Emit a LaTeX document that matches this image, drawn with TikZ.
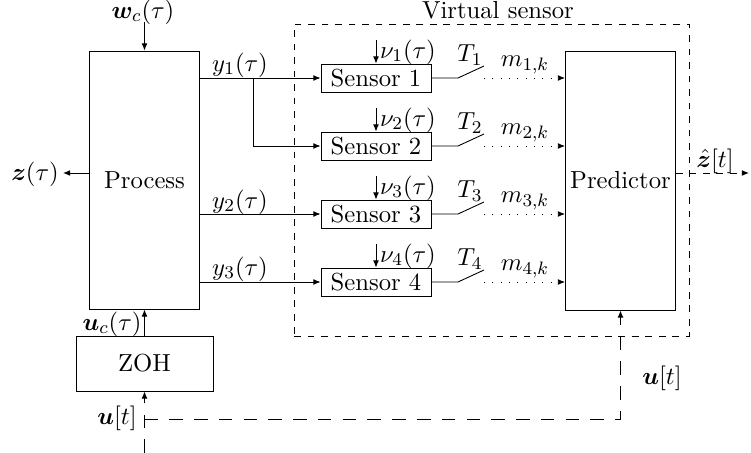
\documentclass[tikz,border=0pt]{standalone}
\usepackage{bm}
\usetikzlibrary{arrows.meta}
\begin{document}
\begin{tikzpicture}[x=0.444pt,y=-0.444pt, >={Latex[length=3.2pt,width=2.6pt]},
  every node/.append style={font=\fontsize{10.95pt}{13pt}\selectfont},
  blk/.style={draw, inner sep=0pt},
  vsbox/.style={draw, dashed, inner sep=0pt},
  ctrl/.style={dash pattern=on 6pt off 5pt},
  meas/.style={dash pattern=on 0.4pt off 3.3pt},
  lbl/.style={inner sep=0pt}]
\useasboundingbox (0,0) rectangle (751,453);

% main blocks
\node[blk, minimum width=110*0.444pt, minimum height=258*0.444pt] (proc) at (144.5,180) {Process};
\node[blk, minimum width=110*0.444pt, minimum height=259*0.444pt] (pred) at (620.5,180.5) {Predictor};
\node[blk, minimum width=137*0.444pt, minimum height=55*0.444pt] (zoh) at (144.5,363.5) {ZOH};
\node[vsbox, minimum width=395*0.444pt, minimum height=312*0.444pt] (vs) at (491.5,180) {};
\node[lbl] (vslbl) at (498,10) {Virtual sensor};

% sensors
\foreach \i/\y in {1/78,2/146,3/214,4/282}{
  \node[blk, minimum width=110*0.444pt, minimum height=28*0.444pt] (s\i) at (376,\y) {Sensor \i};
  \coordinate (n\i) at (376,\y-38);
  \draw[->] (n\i) -- (s\i.north);
  \node[lbl] (nl\i) at (408,\y-26) {$\nu_{\i}(\tau)$};
  \coordinate (swa\i) at (458,\y);
  \coordinate (swb\i) at (484,\y-12);
  \coordinate (dm\i) at (484,\y);
  \draw (s\i.east) -- (swa\i) -- (swb\i);
  \draw[meas,->] (dm\i) -- (dm\i -| pred.west);
  \node[lbl] (tl\i) at (470,\y-23) {$T_{\i}$};
  \node[lbl] (ml\i) at (525,\y-13) {$m_{\i,k}$};
}

% process outputs
\coordinate (br) at (253,78);
\draw[->] (s1 -| proc.east) -- (s1.west);
\draw[->] (br) |- (s2.west);
\draw[->] (s3 -| proc.east) -- (s3.west);
\draw[->] (s4 -| proc.east) -- (s4.west);
\node[lbl] (y1l) at (240,65) {$y_1(\tau)$};
\node[lbl] (y2l) at (240,202) {$y_2(\tau)$};
\node[lbl] (y3l) at (240,269) {$y_3(\tau)$};

% disturbance input
\coordinate (wc) at (144.5,22);
\draw[->] (wc) -- (proc.north);
\node[lbl] (wcl) at (143,12) {$\bm{w}_c(\tau)$};

% output z
\coordinate (zt) at (63,173);
\draw[->] (zt -| proc.west) -- (zt);
\node[lbl] (zl) at (35,174) {$\bm{z}(\tau)$};

% predictor output
\coordinate (zh) at (749,173);
\draw[dashed,->] (zh -| pred.east) -- (zh);
\node[lbl] (zhl) at (715,161) {$\hat{\bm{z}}[t]$};

% control input
\draw[->] (zoh.north) -- (proc.south);
\node[lbl] (ucl) at (112,324) {$\bm{u}_c(\tau)$};
\coordinate (ubot) at (144.5,453);
\coordinate (uj) at (144.5,419);
\draw[ctrl,->] (ubot) -- (zoh.south);
\draw[ctrl,->] (uj) -| (pred.south);
\node[lbl] (ul1) at (117,418) {$\bm{u}[t]$};
\node[lbl] (ul2) at (662,378) {$\bm{u}[t]$};
\end{tikzpicture}
\end{document}
